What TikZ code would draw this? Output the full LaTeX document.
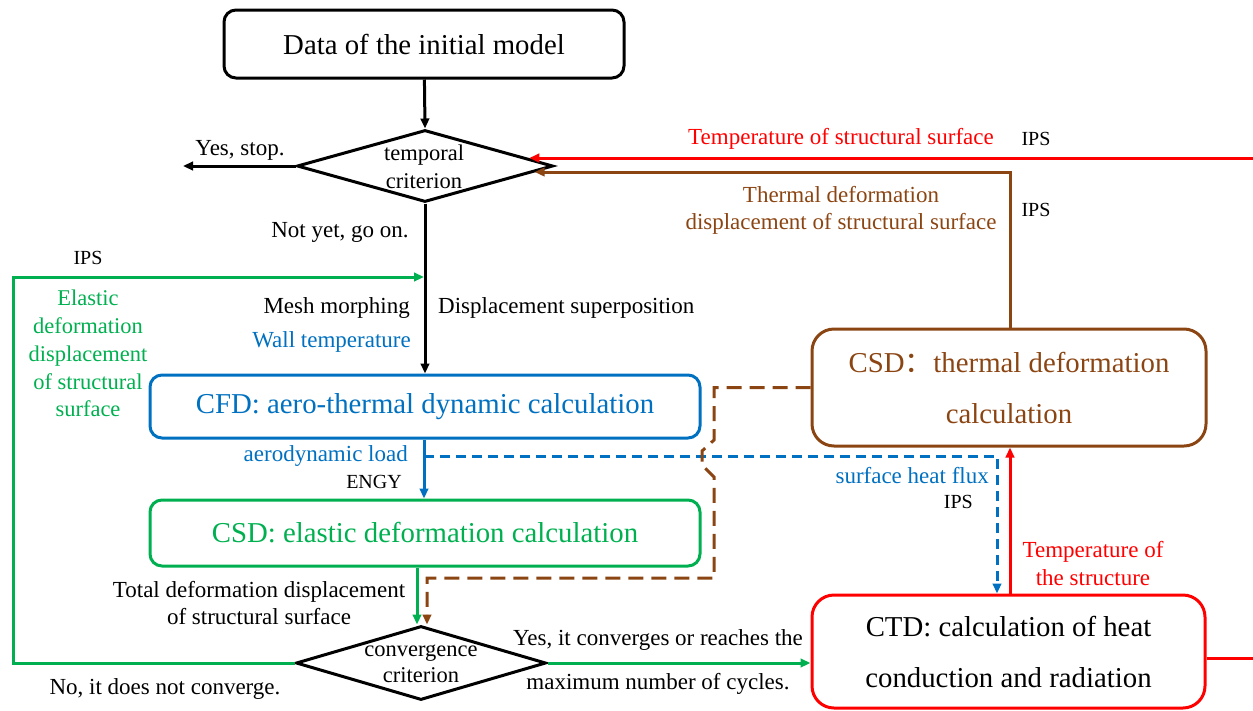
\documentclass[tikz,border=0pt]{standalone}
\usepackage{fontspec}
\setmainfont{Liberation Serif}
\newfontfamily\cjk{Noto Sans CJK SC}
\usetikzlibrary{arrows.meta,shapes.geometric}

\definecolor{cfdblue}{HTML}{0070C0}
\definecolor{csdgreen}{HTML}{00B050}
\definecolor{ctdred}{HTML}{FF0000}
\definecolor{csdbrown}{HTML}{8B4513}

\tikzset{
  big/.style={font=\fontsize{28.8}{34}\selectfont},
  lbl/.style={font=\fontsize{23}{28}\selectfont, inner sep=0pt, align=center},
  small/.style={font=\fontsize{20}{24}\selectfont, inner sep=0pt},
  procbox/.style={draw, line width=3pt, rounded corners=12pt, big, inner sep=0pt, align=center},
  decision/.style={draw, diamond, line width=3pt, inner sep=0pt,
    minimum width=256pt, minimum height=72pt},
  tip/.style={-{Triangle[length=10pt,width=8.5pt]}},
  flow/.style={line width=3pt, tip},
  dashblue/.style={line width=3pt, dash pattern=on 10pt off 6pt},
  dashbrown/.style={line width=3pt, dash pattern=on 15pt off 8pt}
}

\begin{document}
\begin{tikzpicture}[x=1pt,y=-1pt]
\useasboundingbox (0,0) rectangle (1253,710);
\clip (0,0) rectangle (1253,710);

% process boxes
\node[procbox, minimum width=400pt, minimum height=68pt] (data) at (424,44) {\raisebox{-2pt}{Data of the initial model}};
\node[procbox, draw=cfdblue, text=cfdblue, minimum width=550pt, minimum height=63pt] (cfd) at (425,406.5)
  {\raisebox{-3pt}{CFD: aero-thermal dynamic calculation}};
\node[procbox, draw=csdgreen, text=csdgreen, minimum width=550pt, minimum height=66pt] (cse) at (425,533)
  {\raisebox{-3pt}{CSD: elastic deformation calculation}};
\node[procbox, draw=csdbrown, text=csdbrown, rounded corners=22pt, minimum width=394pt, minimum height=117pt,
  font=\fontsize{28.8}{51}\selectfont] (cst) at (1009,387.5)
  {CSD{\cjk ：}thermal deformation\\calculation};
\node[procbox, draw=ctdred, rounded corners=22pt, minimum width=393pt, minimum height=113pt,
  font=\fontsize{28.8}{51}\selectfont] (ctd) at (1008.5,651.5)
  {CTD: calculation of heat\\conduction and radiation};

% decisions
\node[decision] (tc) at (425,166) {};
\node[lbl, font=\fontsize{22.5}{28}\selectfont] (tctext) at (424,167) {temporal\\criterion};
\node[decision, minimum width=250pt, minimum height=74pt] (conv) at (421,663) {};
\node[lbl, font=\fontsize{22.5}{26}\selectfont] (convtext) at (421,664) {convergence\\criterion};

% helper points
\coordinate (stopEnd) at (183,166);
\coordinate (gTurnB) at (13,663);
\coordinate (gTurnT) at (13,277);
\coordinate (gMerge) at (424,277);
\coordinate (split) at (424,456);
\coordinate (hfx) at (997,456);
\coordinate (bA) at (714,387.5);
\coordinate (bB) at (714,440);
\coordinate (bC) at (702,451);
\coordinate (bD) at (702,465);
\coordinate (bE) at (714,477);
\coordinate (bF) at (714,578);
\coordinate (bG) at (427,578);
\coordinate (brTop) at (1010,172);
\coordinate (rOutB) at (1275,658);
\coordinate (rOutT) at (1275,158);

% main flow
\draw[flow] (data) -- (tc.north);
\draw[flow] (tc.west) -- (stopEnd);
\draw[flow] (tc.south) -- (tc.south |- cfd.north);
\draw[flow, cfdblue] ([xshift=-1pt]cfd.south) -- ([xshift=-1pt]cfd.south |- cse.north);
\draw[flow, csdgreen] ([xshift=-8pt]cse.south) -- ([xshift=-8pt]cse.south |- conv.north);
\draw[flow, csdgreen] (conv.west) -- (gTurnB) -- (gTurnT) -- (gMerge);
\draw[flow, csdgreen] (conv.east) -- (ctd.west |- conv.east);

% coupling data exchanges
\draw[dashblue, cfdblue, tip] (split) -- (hfx) -- (hfx |- ctd.north);
\draw[dashbrown, csdbrown, tip] (cst.west) -- (bA) -- (bB) -- (bC) -- (bD) -- (bE) -- (bF) -- (bG) -- (bG |- conv.north);
\draw[flow, csdbrown] (cst.north -| brTop) -- (brTop) -- (tc.-3.2 |- brTop);
\draw[flow, ctdred] (ctd.north -| brTop) -- (cst.south -| brTop);
\draw[flow, ctdred] ([yshift=-6.5pt]ctd.east) -- (rOutB) -- (rOutT) -- (tc.4.6 |- rOutT);

% labels
\node[lbl] (lstop) at (240,150) {Yes, stop.};
\node[lbl] (lgo) at (340,232) {Not yet, go on.};
\node[lbl, anchor=east] (lmesh) at (410,308) {Mesh morphing};
\node[lbl, anchor=east, text=cfdblue] (lwall) at (411,342) {Wall temperature};
\node[lbl, anchor=west] (lsup) at (438,308) {Displacement superposition};
\node[small] (lips1) at (88,258) {IPS};
\node[lbl, text=csdgreen, font=\fontsize{22.5}{27.8}\selectfont] (lelastic) at (88,353.5)
  {Elastic\\deformation\\displacement\\of structural\\surface};
\node[lbl, anchor=east, text=cfdblue] (laero) at (408,456) {aerodynamic load};
\node[small, anchor=east] (lengy) at (402,482) {ENGY};
\node[lbl, anchor=east, text=cfdblue] (lflux) at (989,476) {surface heat flux};
\node[small, anchor=east] (lips2) at (973,502) {IPS};
\node[lbl, font=\fontsize{23}{27}\selectfont] (ltotal) at (259,603.5) {Total deformation displacement\\of structural surface};
\node[lbl] (lno) at (165,689) {No, it does not converge.};
\node[lbl] (lyes1) at (658,640) {Yes, it converges or reaches the};
\node[lbl] (lyes2) at (658,684) {maximum number of cycles.};
\node[lbl, text=ctdred] (ltss) at (841,139) {Temperature of structural surface};
\node[small] (lips3) at (1036,139) {IPS};
\node[lbl, text=csdbrown, font=\fontsize{23}{27}\selectfont] (ltherm) at (841,210.5) {Thermal deformation\\displacement of structural surface};
\node[small] (lips4) at (1036,210) {IPS};
\node[lbl, text=ctdred, font=\fontsize{23}{28}\selectfont] (ltemp) at (1093,564) {Temperature of\\the structure};
\end{tikzpicture}
\end{document}
